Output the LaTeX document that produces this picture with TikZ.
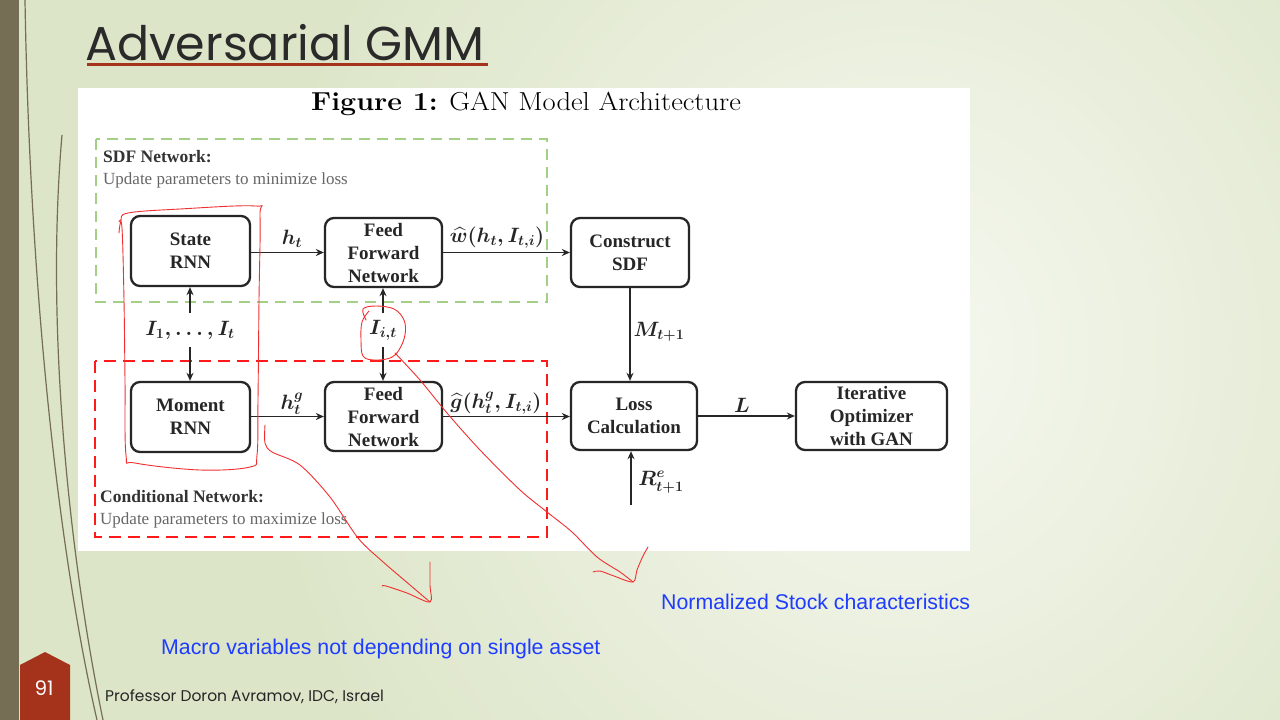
\documentclass[tikz,border=0pt]{standalone}
\usepackage{fontspec}
\usepackage{amsmath,bm}
\usetikzlibrary{arrows.meta}
\newfontfamily\tim{Liberation Serif}
\newfontfamily\pop{Poppins}
\newfontfamily\ari{Liberation Sans}
\definecolor{bgin}{HTML}{F6F8F0}
\definecolor{bgout}{HTML}{DCE5C8}
\definecolor{barcol}{HTML}{766D55}
\definecolor{badgecol}{HTML}{A5321A}
\definecolor{sdfgreen}{HTML}{A3CF86}
\definecolor{condred}{HTML}{FF1A1A}
\definecolor{annred}{HTML}{F03030}
\definecolor{noteblue}{HTML}{1E3CFF}
\definecolor{titlecol}{HTML}{2A2A2A}
\tikzset{
  blk/.style={draw=black!85, line width=2.3pt, rounded corners=9pt, fill=white,
    align=center, inner sep=0pt, font=\tim\bfseries\fontsize{19}{23}\selectfont, text=black!85},
  conn/.style={line width=1.8pt, draw=black!85, -{Stealth[length=8pt,width=7pt]}},
  mlab/.style={font=\boldmath\fontsize{19.5}{24}\selectfont, text=black!85, inner sep=0pt},
  ilab/.style={font=\boldmath\fontsize{19.5}{24}\selectfont, text=black!85, inner sep=0pt, minimum height=34pt},
  ann/.style={draw=annred, line width=0.9pt, line cap=round, line join=round},
  note/.style={font=\ari\fontsize{21.3}{24}\selectfont, text=noteblue, anchor=base west, inner sep=0pt},
}
\begin{document}
\begin{tikzpicture}[x=1pt,y=-1pt]
\useasboundingbox (0,0) rectangle (1280,720);
% background
\fill[bgout] (0,0) rectangle (1280,720);
\begin{scope}
\clip (0,0) rectangle (1280,720);
\shade[inner color=bgin, outer color=bgout] (250,-350) rectangle (1550,1050);
\end{scope}
\fill[barcol] (0,0) rectangle (19,720);
% decorative curves
\draw[barcol, line width=1.2pt] (25,0) .. controls (30,300) and (60,560) .. (97,720);
\draw[barcol, line width=1.2pt] (62,135) .. controls (45,330) and (70,560) .. (103,720);
% badge
\fill[badgecol] (20,720) -- (20,665) -- (45,652) -- (70,665) -- (70,720) -- cycle;
\node[font=\pop\fontsize{20}{22}\selectfont, text=white, inner sep=0pt] (pg) at (44,688) {91};
% title
\node[font=\pop\fontsize{47.5}{52}\selectfont, text=titlecol, anchor=base west, inner sep=0pt] (title) at (85,60) {Adversarial GMM};
\fill[badgecol] (87,62.5) rectangle (488,66);
% footer
\node[font=\pop\fontsize{15.5}{18}\selectfont, text=black!85, anchor=base west, inner sep=0pt] (foot) at (105,701) {Professor Doron Avramov, IDC, Israel};
% white panel
\fill[white] (78,88) rectangle (970,551);
\node[font=\fontsize{26}{29}\selectfont, anchor=base, inner sep=0pt] (cap) at (526,110) {\scalebox{1.1}[1]{\textbf{Figure 1:} GAN Model Architecture}};
% dashed group boxes
\draw[sdfgreen, line width=2.4pt, dash pattern=on 11pt off 7pt] (96,139) rectangle (547,302);
\draw[condred, line width=2.8pt, dash pattern=on 12pt off 7pt] (95,361) rectangle (547,537);
\node[font=\tim\bfseries\fontsize{17.5}{20}\selectfont, text=black!80, anchor=base west, inner sep=0pt] (sdft) at (103,162) {SDF Network:};
\node[font=\tim\fontsize{17}{20}\selectfont, text=black!60, anchor=base west, inner sep=0pt] (sdfs) at (103,184) {Update parameters to minimize loss};
\node[font=\tim\bfseries\fontsize{17.5}{20}\selectfont, text=black!80, anchor=base west, inner sep=0pt] (cndt) at (100,502) {Conditional Network:};
\node[font=\tim\fontsize{17}{20}\selectfont, text=black!60, anchor=base west, inner sep=0pt] (cnds) at (100,524) {Update parameters to maximize loss};
% blocks
\node[blk, minimum width=119pt, minimum height=70pt] (srnn) at (190.5,251) {State\\RNN};
\node[blk, minimum width=117pt, minimum height=69pt] (ffn1) at (383.5,252.5) {Feed\\Forward\\Network};
\node[blk, minimum width=118pt, minimum height=69pt] (sdf) at (630,252.5) {Construct\\SDF};
\node[blk, minimum width=119pt, minimum height=70pt] (mrnn) at (190.5,417) {Moment\\RNN};
\node[blk, minimum width=117pt, minimum height=69pt] (ffn2) at (383.5,416.5) {Feed\\Forward\\Network};
\node[blk, minimum width=126pt, minimum height=68pt] (loss) at (634,416) {Loss\\Calculation};
\node[blk, minimum width=151pt, minimum height=68pt] (iter) at (871.5,416) {Iterative\\Optimizer\\with GAN};
% input labels
\node[ilab] (iall) at (190,330) {$I_1,\ldots,I_t$};
\node[ilab] (iit) at (383,330) {$I_{i,t}$};
\coordinate (rstart) at (631,505);
% connectors
\draw[conn] (srnn.east |- ffn1.west) -- (ffn1.west);
\draw[conn] (ffn1.east) -- (sdf.west);
\draw[conn] (mrnn.east |- ffn2.west) -- (ffn2.west);
\draw[conn] (ffn2.east) -- (ffn2.east -| loss.west);
\draw[conn] (loss.east) -- (iter.west);
\draw[conn] (sdf.south) -- (sdf.south |- loss.north);
\draw[conn] (rstart) -- (rstart |- loss.south);
\draw[conn] (iall.north) -- (iall.north |- srnn.south);
\draw[conn] (iall.south) -- (iall.south |- mrnn.north);
\draw[conn] (iit.north) -- (iit.north |- ffn1.south);
\draw[conn] (iit.south) -- (iit.south |- ffn2.north);
% connector labels
\node[mlab] (lht) at (292,239) {$h_t$};
\node[mlab] (lw) at (497,238) {$\widehat{w}(h_t,I_{t,i})$};
\node[mlab] (lhg) at (292,404) {$h_t^g$};
\node[mlab] (lg) at (496,403) {$\widehat{g}(h_t^g,I_{t,i})$};
\node[mlab] (lm) at (659,332) {$M_{t+1}$};
\node[mlab] (ll) at (742,405) {$L$};
\node[mlab] (lr) at (661,482) {$R_{t+1}^e$};
% hand annotations
\draw[ann] plot[smooth, tension=0.6] coordinates {(119,233) (121,221) (128,213) (180,209) (255,206) (260,216) (259,300) (258,400) (257,455) (250,467) (200,470) (135,463) (126,455) (125,380) (124,300) (122,228) (119,222)};
\draw[ann] plot[smooth, tension=0.6] coordinates {(366,320) (363,309) (376,306) (394,309) (404,320) (405,335) (399,350) (390,358) (374,360) (363,356) (361,340) (362,322) (369,311)};
\draw[ann] plot[smooth, tension=0.5] coordinates {(395,353) (420,380) (447,413) (480,450) (520,490) (547,512) (572,532) (597,557) (620,572) (633,582)};
\draw[ann] plot[smooth, tension=0.5] coordinates {(593,572) (600,571) (614,576) (633,582) (637,570) (643,556) (648,547)};
\draw[ann] plot[smooth, tension=0.5] coordinates {(265,425) (265,443) (272,452) (300,465) (330,497) (358,538) (382,561) (410,585) (430,602)};
\draw[ann] plot[smooth, tension=0.5] coordinates {(382,586) (386,586) (407,593) (430,602) (430,585) (430,562)};
% notes
\node[note] (n1) at (661,609) {Normalized Stock characteristics};
\node[note] (n2) at (161,654) {Macro variables not depending on single asset};
\end{tikzpicture}
\end{document}
